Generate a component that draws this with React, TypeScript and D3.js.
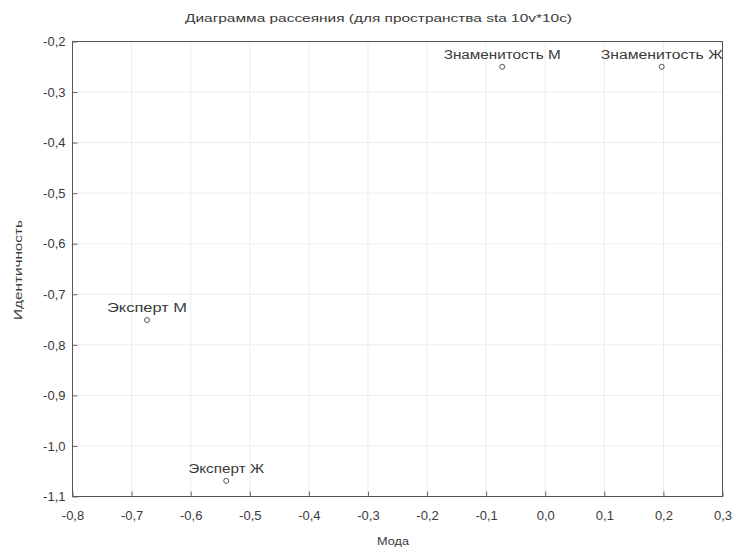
import React, { useEffect, useRef } from 'react';
import * as d3 from 'd3';

const labels = ['Знаменитость М', 'Знаменитость Ж', 'Эксперт М', 'Эксперт Ж'];
const modaValues = [-0.072, 0.198, -0.673, -0.539];
const identValues = [-0.251, -0.251, -0.752, -1.07];
const xTicks = [-0.8, -0.7, -0.6, -0.5, -0.4, -0.3, -0.2, -0.1, 0, 0.1, 0.2, 0.3];
const yTicks = [-0.2, -0.3, -0.4, -0.5, -0.6, -0.7, -0.8, -0.9, -1.0, -1.1];
// widths of the labels as they appear in the picture
const labelWidths = [117, 122, 80, 76];

const width = 739;
const height = 548;
const margin = { top: 41, right: 17, bottom: 52, left: 72 };

const fmt = (v: number) => d3.format('.1f')(v).replace('.', ',').replace('−', '-');

export default function App() {
  const svgRef = useRef<SVGSVGElement>(null);

  useEffect(() => {
    const svg = d3.select(svgRef.current);
    svg.selectAll('*').remove();

    const x = d3.scaleLinear().domain([-0.8, 0.3]).range([margin.left, width - margin.right]);
    const y = d3.scaleLinear().domain([-1.1, -0.2]).range([height - margin.bottom, margin.top]);

    const font = 'Liberation Sans, Arial, sans-serif';
    const textColor = '#3a3a3a';

    svg.append('rect').attr('width', width).attr('height', height).attr('fill', '#fff');

    // grid
    const grid = svg.append('g').attr('stroke', '#ececec').attr('stroke-width', 1);
    xTicks.slice(1, -1).forEach((t) => {
      grid.append('line')
        .attr('x1', x(t) + 0.5).attr('x2', x(t) + 0.5)
        .attr('y1', y(-0.2)).attr('y2', y(-1.1));
    });
    yTicks.slice(1, -1).forEach((t) => {
      grid.append('line')
        .attr('x1', x(-0.8)).attr('x2', x(0.3))
        .attr('y1', y(t) + 0.5).attr('y2', y(t) + 0.5);
    });

    // frame
    svg.append('rect')
      .attr('x', x(-0.8) + 0.5).attr('y', y(-0.2) + 0.5)
      .attr('width', x(0.3) - x(-0.8)).attr('height', y(-1.1) - y(-0.2))
      .attr('fill', 'none').attr('stroke', '#555').attr('stroke-width', 1);

    // x axis
    const minorX = d3.range(-0.8, 0.3001, 0.025);
    const xAxis = svg.append('g').attr('transform', `translate(0.5,${y(-1.1) + 0.5})`);
    xAxis.call(
      d3.axisBottom(x).tickValues(minorX).tickSize(-3).tickFormat(() => '')
    );
    xAxis.call(
      d3.axisBottom(x).tickValues(xTicks).tickSize(-5).tickPadding(14).tickFormat((d) => fmt(+d))
    );
    xAxis.selectAll('.domain').remove();
    xAxis.selectAll('line').attr('stroke', '#666');
    xAxis.selectAll('text').attr('font-family', font).attr('font-size', 13).attr('fill', textColor);

    // y axis
    const minorY = d3.range(-1.1, -0.1999, 0.025);
    const yAxis = svg.append('g').attr('transform', `translate(${x(-0.8) + 0.5},0.5)`);
    yAxis.call(
      d3.axisLeft(y).tickValues(minorY).tickSize(-3).tickFormat(() => '')
    );
    yAxis.call(
      d3.axisLeft(y).tickValues(yTicks).tickSize(-5).tickPadding(7).tickFormat((d) => fmt(+d))
    );
    yAxis.selectAll('.domain').remove();
    yAxis.selectAll('line').attr('stroke', '#666');
    yAxis.selectAll('text').attr('font-family', font).attr('font-size', 13).attr('fill', textColor);

    // points
    const pts = svg.append('g');
    labels.forEach((lab, i) => {
      const cx = x(modaValues[i]);
      const cy = y(identValues[i]);
      pts.append('circle')
        .attr('cx', cx).attr('cy', cy).attr('r', 2.5)
        .attr('fill', 'none').attr('stroke', '#555').attr('stroke-width', 1);
      pts.append('text')
        .attr('x', cx - labelWidths[i] / 2).attr('y', cy - 8)
        .attr('textLength', labelWidths[i]).attr('lengthAdjust', 'spacingAndGlyphs')
        .attr('font-family', font).attr('font-size', 12).attr('fill', textColor)
        .text(lab);
    });

    // titles
    svg.append('text')
      .attr('x', 185).attr('y', 22)
      .attr('textLength', 387).attr('lengthAdjust', 'spacingAndGlyphs')
      .attr('font-family', font).attr('font-size', 11).attr('fill', textColor)
      .text('Диаграмма рассеяния (для пространства sta 10v*10c)');
    svg.append('text')
      .attr('x', 377).attr('y', 545)
      .attr('textLength', 32).attr('lengthAdjust', 'spacingAndGlyphs')
      .attr('font-family', font).attr('font-size', 11).attr('fill', textColor)
      .text('Мода');
    svg.append('text')
      .attr('transform', `translate(22,320) rotate(-90)`)
      .attr('textLength', 100).attr('lengthAdjust', 'spacingAndGlyphs')
      .attr('font-family', font).attr('font-size', 11).attr('fill', textColor)
      .text('Идентичность');
  }, []);

  return (
    <svg
      ref={svgRef}
      width={width}
      height={height}
      style={{ position: 'absolute', left: 0, top: 0 }}
    />
  );
}
